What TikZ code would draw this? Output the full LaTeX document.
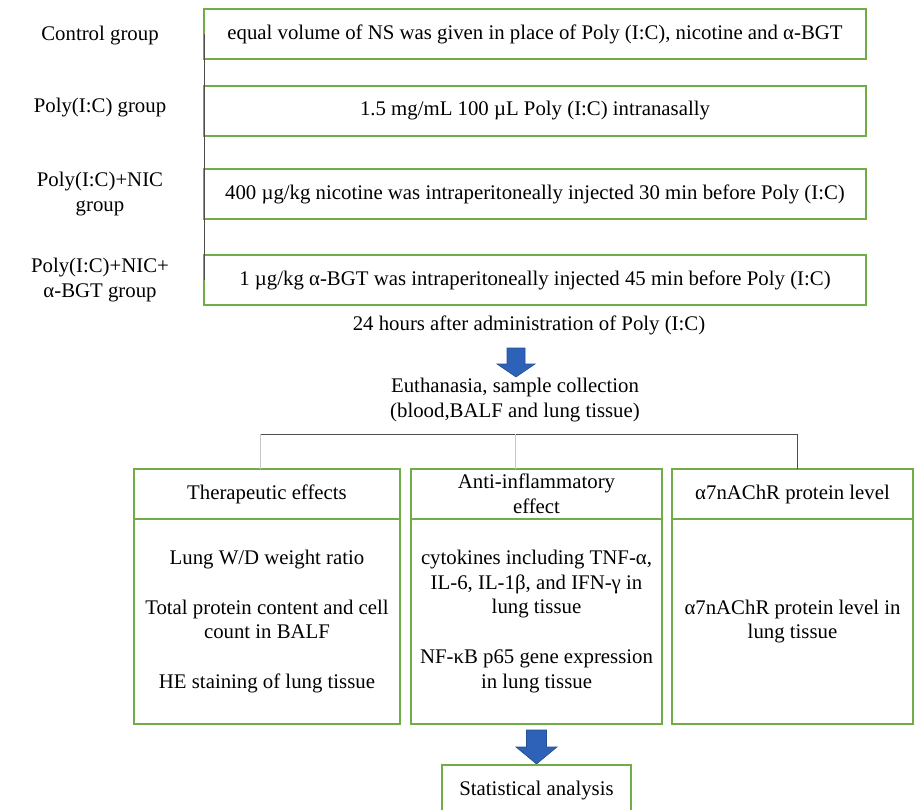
\documentclass[tikz,border=0pt]{standalone}
\usepackage{fontspec}
\setmainfont{Liberation Serif}
\usetikzlibrary{positioning}
\definecolor{boxgreen}{HTML}{70AD47}
\definecolor{arrowblue}{HTML}{2E62B8}
\definecolor{arrowedge}{HTML}{24508F}

\begin{document}
\begin{tikzpicture}[
        x=1pt, y=-1pt,
        font=\fontsize{20.8}{24.8}\selectfont,
        plain/.style={align=center, inner sep=0pt},
        treatbox/.style={rectangle, draw=boxgreen, line width=1.4pt, minimum width=662pt, minimum height=50pt, inner sep=0pt, outer sep=0pt},
        headbox/.style={rectangle, draw=boxgreen, line width=1.4pt, minimum height=50pt, inner sep=0pt, outer sep=0pt, align=center},
        bodybox/.style={rectangle, draw=boxgreen, line width=1.4pt, minimum height=205pt, inner sep=0pt, outer sep=0pt, align=center},
        link/.style={draw=black!70, line width=1pt},
        lightlink/.style={draw=black!22, line width=1pt},
        bigarrow/.style={fill=arrowblue, draw=arrowedge, line width=0.6pt}
    ]
        \useasboundingbox (0,0) rectangle (915,809);
        \clip (0,0) rectangle (915,809);

        % groups
        \node[plain] (ctl) at (100,36) {Control group};
        \node[plain] (pic) at (100,108) {Poly(I:C) group};
        \node[plain] (nic) at (100,194) {Poly(I:C)+NIC\\group};
        \node[plain] (bgt) at (100,280) {Poly(I:C)+NIC+\\α-BGT group};

        % treatments
        \node[treatbox] (ns) at (535,34) {equal volume of NS was given in place of Poly (I:C), nicotine and α-BGT};
        \node[treatbox] (polyic) at (535,111) {1.5 mg/mL 100 µL Poly (I:C) intranasally};
        \node[treatbox] (nicinj) at (535,194) {400 µg/kg nicotine was intraperitoneally injected 30 min before Poly (I:C)};
        \node[treatbox] (bgtinj) at (535,280) {1 µg/kg α-BGT was intraperitoneally injected 45 min before Poly (I:C)};
        \draw[link] (ns.west) -- (bgtinj.west);

        \node[plain] (hours) at (529,325) {24 hours after administration of Poly (I:C)};
        \coordinate (arrA) at (516,348);
        \filldraw[bigarrow] (arrA) -- ++(9,0) -- ++(0,16) -- ++(10,0) -- ++(-19,13) -- ++(-19,-13) -- ++(10,0) -- ++(0,-16) -- cycle;
        \node[plain] (euth) at (515,400) {Euthanasia, sample collection\\(blood,BALF and lung tissue)};

        % outcome boxes
        \node[headbox, minimum width=266pt] (ther) at (267,494) {Therapeutic effects};
        \node[bodybox, minimum width=266pt, below=0pt of ther] (therbody) {Lung W/D weight ratio\\[25pt]Total protein content and cell\\count in BALF\\[25pt]HE staining of lung tissue};
        \node[headbox, minimum width=251pt] (anti) at (536.5,494) {Anti-inflammatory\\effect};
        \node[bodybox, minimum width=251pt, below=0pt of anti] (antibody) {cytokines including TNF-α,\\IL-6, IL-1β, and IFN-γ in\\lung tissue\\[25pt]NF-κB p65 gene expression\\in lung tissue};
        \node[headbox, minimum width=241pt] (alpha) at (792.5,494) {α7nAChR protein level};
        \node[bodybox, minimum width=241pt, below=0pt of alpha] (alphabody) {α7nAChR protein level in\\lung tissue};

        \coordinate (brL) at (260,434);
        \coordinate (brR) at (797,434);
        \draw[link] (brL) -- (brR);
        \draw[lightlink] (brL) -- (brL |- ther.north);
        \draw[lightlink] (euth.south |- brL) -- (euth.south |- anti.north);
        \draw[link] (brR) -- (brR |- alpha.north);

        \coordinate (arrB) at (536.5,730);
        \filldraw[bigarrow] (arrB) -- ++(10,0) -- ++(0,17) -- ++(10.5,0) -- ++(-20.5,17) -- ++(-20.5,-17) -- ++(10.5,0) -- ++(0,-17) -- cycle;
        \node[headbox, minimum width=189pt, minimum height=52pt] (stat) at (536.5,791) {Statistical analysis};
    \end{tikzpicture}
\end{document}
